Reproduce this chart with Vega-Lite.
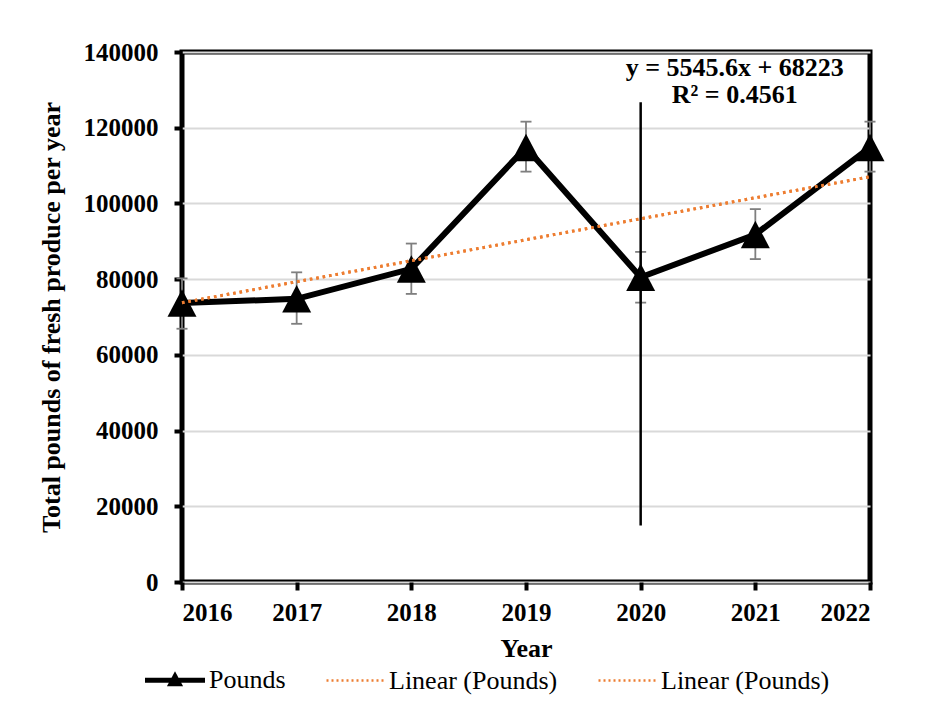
{
  "$schema": "https://vega.github.io/schema/vega-lite/v6.json",
  "width": 688,
  "height": 530,
  "autosize": {"type": "none"},
  "padding": {"left": 182, "top": 52, "right": 59, "bottom": 129},
  "background": "white",
  "config": {
    "font": "Liberation Serif",
    "view": {"stroke": "black", "strokeWidth": 5},
    "axis": {
      "labelFont": "Liberation Serif",
      "labelFontSize": 25,
      "labelFontWeight": "bold",
      "labelColor": "black",
      "titleFont": "Liberation Serif",
      "titleFontSize": 26,
      "titleFontWeight": "bold",
      "titleColor": "black",
      "tickColor": "black",
      "tickWidth": 4,
      "tickSize": 8,
      "domain": false
    },
    "legend": {
      "labelFont": "Liberation Serif",
      "labelFontSize": 26,
      "labelColor": "black",
      "labelLimit": 400
    }
  },
  "datasets": {
    "pounds": [
      {"year": 2016, "pounds": 73700, "lo": 66900, "hi": 80200, "series": "Pounds"},
      {"year": 2017, "pounds": 74800, "lo": 68200, "hi": 81800, "series": "Pounds"},
      {"year": 2018, "pounds": 82700, "lo": 76100, "hi": 89400, "series": "Pounds"},
      {"year": 2019, "pounds": 114800, "lo": 108400, "hi": 121600, "series": "Pounds"},
      {"year": 2020, "pounds": 80500, "lo": 73800, "hi": 87200, "series": "Pounds"},
      {"year": 2021, "pounds": 91800, "lo": 85300, "hi": 98500, "series": "Pounds"},
      {"year": 2022, "pounds": 114800, "lo": 108400, "hi": 121600, "series": "Pounds"}
    ],
    "trend": [
      {"year": 2016, "pounds": 73768.6, "series": "Linear1"},
      {"year": 2022, "pounds": 107042.2, "series": "Linear1"},
      {"year": 2016, "pounds": 73768.6, "series": "Linear2"},
      {"year": 2022, "pounds": 107042.2, "series": "Linear2"}
    ],
    "spike": [
      {"year": 2020, "lo": 14900, "hi": 126700}
    ],
    "note": [
      {"year": 2020.82, "pounds": 135850, "label": "y = 5545.6x + 68223"},
      {"year": 2020.82, "pounds": 128600, "label": "R² = 0.4561"}
    ]
  },
  "layer": [
    {
      "data": {"name": "pounds"},
      "mark": {"type": "rule", "color": "#7f7f7f", "strokeWidth": 1.8},
      "encoding": {
        "x": {
          "field": "year", "type": "quantitative",
          "scale": {"domain": [2016, 2022], "nice": false, "zero": false},
          "axis": {
            "values": [2016, 2017, 2018, 2019, 2020, 2021, 2022],
            "format": "d",
            "title": "Year",
            "grid": false,
            "labelPadding": 10,
            "titlePadding": 10
          }
        },
        "y": {
          "field": "lo", "type": "quantitative",
          "scale": {"domain": [0, 140000], "nice": false},
          "axis": {
            "values": [0, 20000, 40000, 60000, 80000, 100000, 120000, 140000],
            "format": "d",
            "title": "Total pounds of fresh produce per year",
            "grid": true,
            "gridColor": "#d9d9d9",
            "gridWidth": 2,
            "labelPadding": 16,
            "titlePadding": 19
          }
        },
        "y2": {"field": "hi"}
      }
    },
    {
      "data": {"name": "pounds"},
      "mark": {"type": "point", "shape": "stroke", "size": 121, "stroke": "#7f7f7f", "strokeWidth": 1.8, "opacity": 1},
      "encoding": {
        "x": {"field": "year", "type": "quantitative"},
        "y": {"field": "lo", "type": "quantitative"}
      }
    },
    {
      "data": {"name": "pounds"},
      "mark": {"type": "point", "shape": "stroke", "size": 121, "stroke": "#7f7f7f", "strokeWidth": 1.8, "opacity": 1},
      "encoding": {
        "x": {"field": "year", "type": "quantitative"},
        "y": {"field": "hi", "type": "quantitative"}
      }
    },
    {
      "data": {"name": "pounds"},
      "mark": {"type": "line", "strokeWidth": 6, "strokeJoin": "miter"},
      "encoding": {
        "x": {"field": "year", "type": "quantitative"},
        "y": {"field": "pounds", "type": "quantitative"},
        "color": {
          "field": "series", "type": "nominal",
          "scale": {"domain": ["Pounds", "Linear1", "Linear2"], "range": ["black", "#ED7D31", "#ED7D31"]},
          "legend": {
            "title": null,
            "orient": "none",
            "direction": "horizontal",
            "legendX": -20,
            "legendY": 615,
            "symbolSize": 3600,
            "labelOffset": 21,
            "columnPadding": 35,
            "labelExpr": "datum.value === 'Pounds' ? 'Pounds' : 'Linear (Pounds)'",
            "encode": {
              "symbols": {
                "update": {
                  "shape": {"signal": "datum.value === 'Pounds' ? 'M-1,0H1M-0.13,0.12L0,-0.12L0.13,0.12Z' : 'M-0.95,0H0.95'"},
                  "fill": {"signal": "datum.value === 'Pounds' ? 'black' : 'transparent'"},
                  "strokeWidth": {"signal": "datum.value === 'Pounds' ? 5 : 2.5"},
                  "strokeDash": {"signal": "datum.value === 'Pounds' ? [1, 0] : [2, 3]"},
                  "opacity": {"value": 1}
                }
              }
            }
          }
        }
      }
    },
    {
      "data": {"name": "pounds"},
      "mark": {"type": "point", "shape": "M0,-0.95L1,0.95L-1,0.95Z", "size": 841, "filled": true, "color": "black", "opacity": 1},
      "encoding": {
        "x": {"field": "year", "type": "quantitative"},
        "y": {"field": "pounds", "type": "quantitative"}
      }
    },
    {
      "data": {"name": "trend"},
      "mark": {"type": "line", "strokeWidth": 3, "strokeDash": [2.5, 4]},
      "encoding": {
        "x": {"field": "year", "type": "quantitative"},
        "y": {"field": "pounds", "type": "quantitative"},
        "color": {"field": "series", "type": "nominal"}
      }
    },
    {
      "data": {"name": "spike"},
      "mark": {"type": "rule", "color": "black", "strokeWidth": 2.5},
      "encoding": {
        "x": {"field": "year", "type": "quantitative"},
        "y": {"field": "lo", "type": "quantitative"},
        "y2": {"field": "hi"}
      }
    },
    {
      "data": {"name": "note"},
      "mark": {"type": "text", "font": "Liberation Serif", "fontSize": 26, "fontWeight": "bold", "color": "black", "align": "center", "baseline": "middle"},
      "encoding": {
        "x": {"field": "year", "type": "quantitative"},
        "y": {"field": "pounds", "type": "quantitative"},
        "text": {"field": "label"}
      }
    }
  ]
}
